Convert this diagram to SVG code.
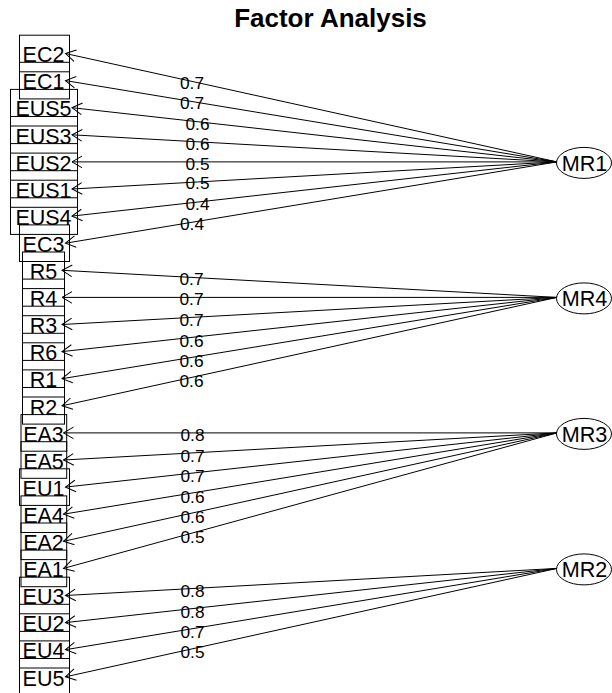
<svg xmlns="http://www.w3.org/2000/svg" width="612" height="693" viewBox="0 0 612 693">
<style>
.box{fill:none;stroke:#000;stroke-width:1}
.vt{font-family:"Liberation Sans",Arial,sans-serif;font-size:21.5px;text-anchor:middle;fill:#000}
.ft{font-family:"Liberation Sans",Arial,sans-serif;font-size:21.6px;text-anchor:middle;fill:#000}
.el{fill:#fff;stroke:#000;stroke-width:1}
.ln{stroke:#000;stroke-width:1;fill:none;marker-end:url(#arr)}
.lb{font-family:"Liberation Sans",Arial,sans-serif;font-size:17.3px;text-anchor:middle;fill:#000}
.title{font-family:"Liberation Sans",Arial,sans-serif;font-size:26px;font-weight:bold;text-anchor:middle;fill:#000}
</style>
<defs>
<marker id="arr" markerUnits="userSpaceOnUse" markerWidth="14" markerHeight="16" viewBox="0 0 14 16" refX="12" refY="8" orient="auto" overflow="visible">
<path d="M2 2.2 L12 8 L2 13.8" fill="none" stroke="#000" stroke-width="1"/>
</marker>
</defs>
<rect width="612" height="693" fill="#fff"/>
<text class="title" x="330.5" y="27">Factor Analysis</text>

<g id="connectors">
<line class="ln" x1="557" y1="161.9" x2="65.5" y2="53.5"/>
<line class="ln" x1="557" y1="161.9" x2="65.5" y2="80.6"/>
<line class="ln" x1="557" y1="161.9" x2="72" y2="107.7"/>
<line class="ln" x1="557" y1="161.9" x2="72" y2="134.8"/>
<line class="ln" x1="557" y1="161.9" x2="72" y2="161.9"/>
<line class="ln" x1="557" y1="161.9" x2="72" y2="189"/>
<line class="ln" x1="557" y1="161.9" x2="72" y2="216.1"/>
<line class="ln" x1="557" y1="161.9" x2="65.5" y2="243.2"/>
<line class="ln" x1="557" y1="297.4" x2="62" y2="270.3"/>
<line class="ln" x1="557" y1="297.4" x2="62" y2="297.4"/>
<line class="ln" x1="557" y1="297.4" x2="62" y2="324.5"/>
<line class="ln" x1="557" y1="297.4" x2="62" y2="351.6"/>
<line class="ln" x1="557" y1="297.4" x2="62" y2="378.7"/>
<line class="ln" x1="557" y1="297.4" x2="62" y2="405.8"/>
<line class="ln" x1="557" y1="432.9" x2="63.5" y2="432.9"/>
<line class="ln" x1="557" y1="432.9" x2="63.5" y2="460"/>
<line class="ln" x1="557" y1="432.9" x2="65.5" y2="487.1"/>
<line class="ln" x1="557" y1="432.9" x2="63.5" y2="514.2"/>
<line class="ln" x1="557" y1="432.9" x2="63.5" y2="541.3"/>
<line class="ln" x1="557" y1="432.9" x2="63.5" y2="568.4"/>
<line class="ln" x1="557" y1="568.4" x2="65.5" y2="595.5"/>
<line class="ln" x1="557" y1="568.4" x2="65.5" y2="622.6"/>
<line class="ln" x1="557" y1="568.4" x2="65.5" y2="649.7"/>
<line class="ln" x1="557" y1="568.4" x2="65.5" y2="676.8"/>
<text class="lb" x="192" y="88.8">0.7</text>
<text class="lb" x="192" y="109">0.7</text>
<text class="lb" x="197.5" y="130">0.6</text>
<text class="lb" x="197.5" y="150.3">0.6</text>
<text class="lb" x="197.5" y="169.6">0.5</text>
<text class="lb" x="197.5" y="189.3">0.5</text>
<text class="lb" x="197.5" y="209.8">0.4</text>
<text class="lb" x="192" y="230.3">0.4</text>
<text class="lb" x="191.5" y="285.3">0.7</text>
<text class="lb" x="191.5" y="304.9">0.7</text>
<text class="lb" x="191.5" y="325.5">0.7</text>
<text class="lb" x="191.5" y="346.8">0.6</text>
<text class="lb" x="191.5" y="366.9">0.6</text>
<text class="lb" x="191.5" y="387.3">0.6</text>
<text class="lb" x="192.5" y="441.1">0.8</text>
<text class="lb" x="192.5" y="461.6">0.7</text>
<text class="lb" x="192.5" y="482.1">0.7</text>
<text class="lb" x="192.5" y="502.6">0.6</text>
<text class="lb" x="192.5" y="522.8">0.6</text>
<text class="lb" x="192.5" y="542.8">0.5</text>
<text class="lb" x="192.5" y="596.8">0.8</text>
<text class="lb" x="192.5" y="617.8">0.8</text>
<text class="lb" x="192.5" y="637.6">0.7</text>
<text class="lb" x="192.5" y="657.5">0.5</text>
</g>

<g id="EC2"><rect class="box" x="19.5" y="35.2" width="50" height="36.6"/><text class="vt" x="43.5" y="62.2">EC2</text></g>
<g id="EC1"><rect class="box" x="19.5" y="62.3" width="50" height="36.6"/><text class="vt" x="43.5" y="89.3">EC1</text></g>
<g id="EUS5"><rect class="box" x="10.5" y="89.4" width="67" height="36.6"/><text class="vt" x="43.5" y="116.4">EUS5</text></g>
<g id="EUS3"><rect class="box" x="10.5" y="116.5" width="67" height="36.6"/><text class="vt" x="43.5" y="143.5">EUS3</text></g>
<g id="EUS2"><rect class="box" x="10.5" y="143.6" width="67" height="36.6"/><text class="vt" x="43.5" y="170.6">EUS2</text></g>
<g id="EUS1"><rect class="box" x="10.5" y="170.7" width="67" height="36.6"/><text class="vt" x="43.5" y="197.7">EUS1</text></g>
<g id="EUS4"><rect class="box" x="10.5" y="197.8" width="67" height="36.6"/><text class="vt" x="43.5" y="224.8">EUS4</text></g>
<g id="EC3"><rect class="box" x="19.5" y="224.9" width="50" height="36.6"/><text class="vt" x="43.5" y="251.9">EC3</text></g>
<g id="R5"><rect class="box" x="22.5" y="252" width="42" height="36.6"/><text class="vt" x="43.5" y="279">R5</text></g>
<g id="R4"><rect class="box" x="22.5" y="279.1" width="42" height="36.6"/><text class="vt" x="43.5" y="306.1">R4</text></g>
<g id="R3"><rect class="box" x="22.5" y="306.2" width="42" height="36.6"/><text class="vt" x="43.5" y="333.2">R3</text></g>
<g id="R6"><rect class="box" x="22.5" y="333.3" width="42" height="36.6"/><text class="vt" x="43.5" y="360.3">R6</text></g>
<g id="R1"><rect class="box" x="22.5" y="360.4" width="42" height="36.6"/><text class="vt" x="43.5" y="387.4">R1</text></g>
<g id="R2"><rect class="box" x="22.5" y="387.5" width="42" height="36.6"/><text class="vt" x="43.5" y="414.5">R2</text></g>
<g id="EA3"><rect class="box" x="21" y="414.6" width="45.7" height="36.6"/><text class="vt" x="43.5" y="441.6">EA3</text></g>
<g id="EA5"><rect class="box" x="21" y="441.7" width="45.7" height="36.6"/><text class="vt" x="43.5" y="468.7">EA5</text></g>
<g id="EU1"><rect class="box" x="19.5" y="468.8" width="50" height="36.6"/><text class="vt" x="43.5" y="495.8">EU1</text></g>
<g id="EA4"><rect class="box" x="21" y="495.9" width="45.7" height="36.6"/><text class="vt" x="43.5" y="522.9">EA4</text></g>
<g id="EA2"><rect class="box" x="21" y="523" width="45.7" height="36.6"/><text class="vt" x="43.5" y="550">EA2</text></g>
<g id="EA1"><rect class="box" x="21" y="550.1" width="45.7" height="36.6"/><text class="vt" x="43.5" y="577.1">EA1</text></g>
<g id="EU3"><rect class="box" x="19.5" y="577.2" width="50" height="36.6"/><text class="vt" x="43.5" y="604.2">EU3</text></g>
<g id="EU2"><rect class="box" x="19.5" y="604.3" width="50" height="36.6"/><text class="vt" x="43.5" y="631.3">EU2</text></g>
<g id="EU4"><rect class="box" x="19.5" y="631.4" width="50" height="36.6"/><text class="vt" x="43.5" y="658.4">EU4</text></g>
<g id="EU5"><rect class="box" x="19.5" y="658.5" width="50" height="36.6"/><text class="vt" x="43.5" y="685.5">EU5</text></g>

<g id="MR1"><ellipse class="el" cx="584" cy="162.9" rx="27.5" ry="15.5"/><text class="ft" x="584.5" y="170.6">MR1</text></g>
<g id="MR4"><ellipse class="el" cx="584" cy="298.4" rx="27.5" ry="15.5"/><text class="ft" x="584.5" y="306.1">MR4</text></g>
<g id="MR3"><ellipse class="el" cx="584" cy="433.9" rx="27.5" ry="15.5"/><text class="ft" x="584.5" y="441.6">MR3</text></g>
<g id="MR2"><ellipse class="el" cx="584" cy="569.4" rx="27.5" ry="15.5"/><text class="ft" x="584.5" y="577.1">MR2</text></g>
</svg>
